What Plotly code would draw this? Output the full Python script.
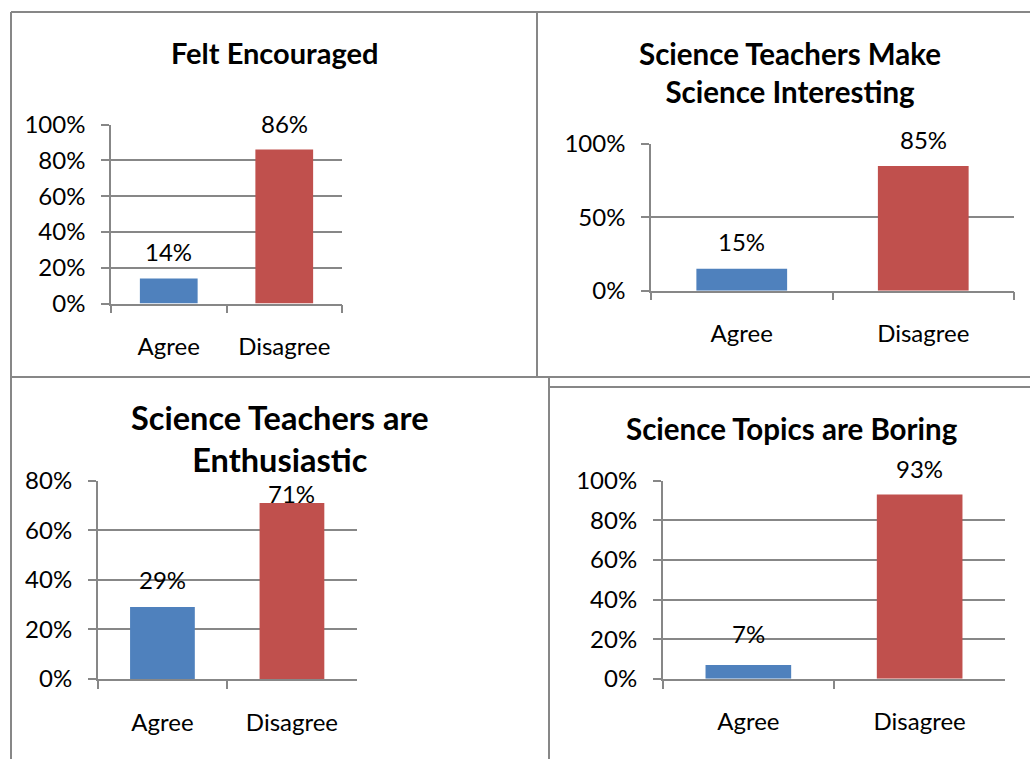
import plotly.graph_objects as go

# ---------------- data ----------------
categories = ["Agree", "Disagree"]

titles = [
    "Felt Encouraged",
    "Science Teachers Make<br>Science Interesting",
    "Science Teachers are<br>Enthusiastic",
    "Science Topics are Boring",
]

felt_encouraged = [0.14, 0.86]
make_interesting = [0.15, 0.85]
enthusiastic = [0.29, 0.71]
topics_boring = [0.07, 0.93]

series = [felt_encouraged, make_interesting, enthusiastic, topics_boring]

y_max = [1.0, 1.0, 0.8, 1.0]
y_step = [0.2, 0.5, 0.2, 0.2]

# ---------------- layout / style ----------------
W, H = 1030, 759
BAR_COLORS = ["#4F81BD", "#C0504D"]
GRAY = "#878787"
FONT = "Lato"

# plot areas in pixels: (left, right, top, bottom)
plot_px = [
    (111, 342, 124.5, 303.5),
    (651, 1014, 144, 290.7),
    (97.7, 356.7, 480.7, 679),
    (662.7, 1005.3, 480.7, 678.8),
]
# panel border segments in pixels: (x0, y0, x1, y1)
border_lines = [
    (11, 12, 1030, 12),      # top edge of upper panels
    (11, 12, 11, 759),       # left edge of left panels
    (537, 12, 537, 377),     # divider between upper panels
    (11, 377, 1030, 377),    # bottom edge of upper panels
    (549, 377, 549, 759),    # right edge of lower-left panel
    (549, 387, 1030, 387),   # top edge of lower-right panel
]
# title positions (center x, center y), font sizes
title_pos = [(274, 53, 29), (790, 72, 29.5), (280, 438, 32.5), (792, 429, 29.5)]
# data label vertical offsets (px above bar top)
label_shift = [[27, 26], [27, 27], [28, 10], [31, 26]]

TICK_SIZE = 24


def px2x(v):
    return v / W


def px2y(v):
    return 1 - v / H


fig = go.Figure()
annotations = []
shapes = []

for i, vals in enumerate(series):
    n = i + 1
    xa = "x" if n == 1 else f"x{n}"
    ya = "y" if n == 1 else f"y{n}"
    fig.add_trace(
        go.Bar(
            x=categories,
            y=vals,
            marker=dict(color=BAR_COLORS, line=dict(width=0)),
            xaxis=xa,
            yaxis=ya,
            showlegend=False,
            hoverinfo="x+y",
        )
    )
    l, r, t, b = plot_px[i]
    xkey = "xaxis" if n == 1 else f"xaxis{n}"
    ykey = "yaxis" if n == 1 else f"yaxis{n}"
    fig.update_layout(
        **{
            xkey: dict(
                domain=[px2x(l), px2x(r)],
                anchor=ya,
                type="category",
                categoryorder="array",
                categoryarray=categories,
                showline=True,
                linecolor=GRAY,
                linewidth=1.5,
                ticks="outside",
                tickson="boundaries",
                ticklen=8,
                tickcolor=GRAY,
                tickwidth=1.5,
                showgrid=False,
                tickfont=dict(family=FONT, size=TICK_SIZE, color="black"),
                ticklabelstandoff=21,
                automargin=False,
                fixedrange=True,
            ),
            ykey: dict(
                domain=[px2y(b), px2y(t)],
                anchor=xa,
                range=[0, y_max[i]],
                dtick=y_step[i],
                tick0=0,
                tickformat=".0%",
                showline=True,
                linecolor=GRAY,
                linewidth=1.5,
                ticks="outside",
                ticklen=8,
                tickcolor=GRAY,
                tickwidth=1.5,
                showgrid=True,
                gridcolor=GRAY,
                gridwidth=1.5,
                zeroline=False,
                tickfont=dict(family=FONT, size=TICK_SIZE, color="black"),
                ticklabelstandoff=11,
                automargin=False,
                fixedrange=True,
            ),
        }
    )
    # data labels
    for j, (c, v) in enumerate(zip(categories, vals)):
        annotations.append(
            dict(
                x=c,
                y=v,
                xref=xa,
                yref=ya,
                text=f"{round(v * 100)}%",
                showarrow=False,
                yanchor="middle",
                yshift=label_shift[i][j],
                font=dict(family=FONT, size=TICK_SIZE, color="black"),
            )
        )
    # titles
    tx, ty, ts = title_pos[i]
    annotations.append(
        dict(
            x=px2x(tx),
            y=px2y(ty),
            xref="paper",
            yref="paper",
            text=f"<b>{titles[i]}</b>",
            showarrow=False,
            xanchor="center",
            yanchor="middle",
            font=dict(family=FONT, size=ts, color="black"),
        )
    )

for x0, y0, x1, y1 in border_lines:
    shapes.append(
        dict(
            type="line",
            xref="paper",
            yref="paper",
            x0=px2x(x0),
            x1=px2x(x1),
            y0=px2y(y0),
            y1=px2y(y1),
            line=dict(color=GRAY, width=2),
            layer="below",
        )
    )

fig.update_layout(
    width=W,
    height=H,
    margin=dict(l=0, r=0, t=0, b=0, pad=0, autoexpand=False),
    paper_bgcolor="white",
    plot_bgcolor="white",
    bargap=0.5,
    annotations=annotations,
    shapes=shapes,
    font=dict(family=FONT, color="black"),
)

fig.write_html(
    "out.html",
    config={"displayModeBar": False},
    post_script="document.body.style.margin='0';document.body.style.overflow='hidden';",
)
